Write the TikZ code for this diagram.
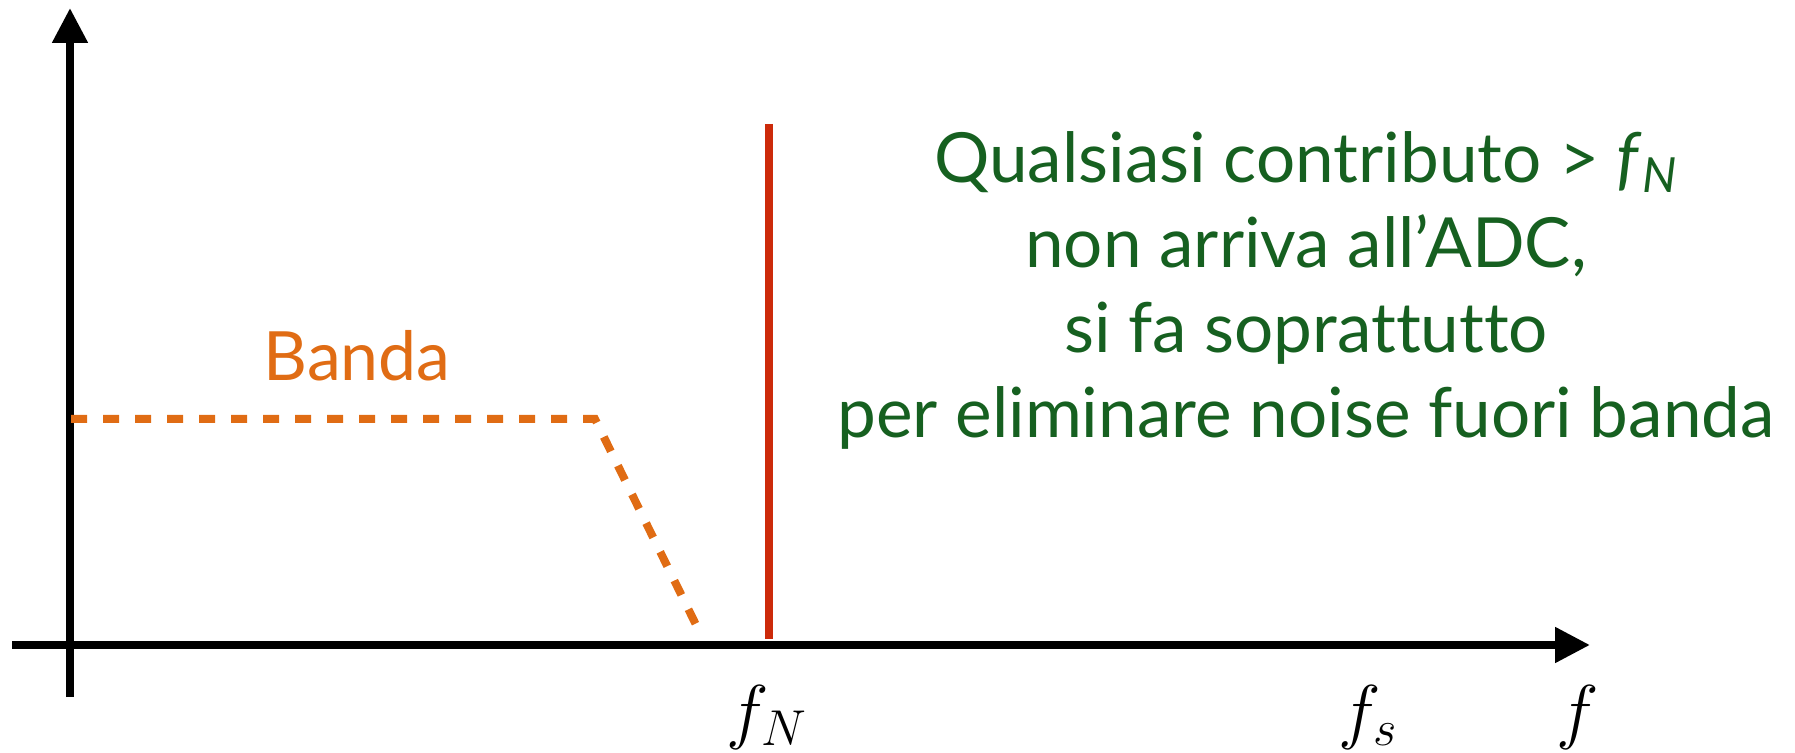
\RequirePackage{fix-cm}
\documentclass[tikz,border=0pt]{standalone}
\usepackage{fontspec}
\newfontfamily\notefont[Ligatures=CommonOff]{Lato}
\usetikzlibrary{positioning,arrows.meta}
\definecolor{bandorange}{RGB}{224,108,20}
\definecolor{cutred}{RGB}{204,42,10}
\definecolor{notegreen}{RGB}{22,96,32}

\begin{document}
\begin{tikzpicture}[
  x=0.5pt,y=-0.5pt,
  axis/.style={line width=4pt,-{Triangle[width=17pt,length=17.5pt]}},
  bandline/.style={bandorange,line width=4pt,dash pattern=on 8pt off 8pt},
  cutline/.style={cutred,line width=4pt},
  ticklabel/.style={font=\fontsize{36}{40}\selectfont}
]
\useasboundingbox (0,0) rectangle (1795,753);

% axes
\coordinate (ybot) at (70,697);
\coordinate (ytop) at (70,8);
\coordinate (xleft) at (12,645);
\coordinate (xright) at (1590,645);
\draw[axis] (ybot) -- (ytop);
\draw[axis] (xleft) -- (xright);

% filter band
\coordinate (b0) at (71,419);
\coordinate (b1) at (595,419);
\coordinate (b2) at (702,637);
\draw[bandline] (b0) -- (b1) -- (b2);
\node[bandorange,font=\notefont\fontsize{34}{40}\selectfont] (banda) at (357,356) {Banda};

% Nyquist cut
\coordinate (ctop) at (769,124);
\coordinate (cbot) at (769,639);
\draw[cutline] (ctop) -- (cbot);

% frequency labels
\node[ticklabel] (fN) at (767,717) {$f_N$};
\node[ticklabel] (fs) at (1368,717) {$f_s$};
\node[ticklabel] (f) at (1578,717) {$f$};

\node[notegreen,align=center,font=\notefont\fontsize{34.6}{42.5}\selectfont] (note) at (1306,290)
  {Qualsiasi contributo > \textit{f}\textsubscript{\textit{N}}\\
   non arriva all’ADC,\\
   si fa soprattutto\\
   per eliminare noise fuori banda};
\end{tikzpicture}
\end{document}
